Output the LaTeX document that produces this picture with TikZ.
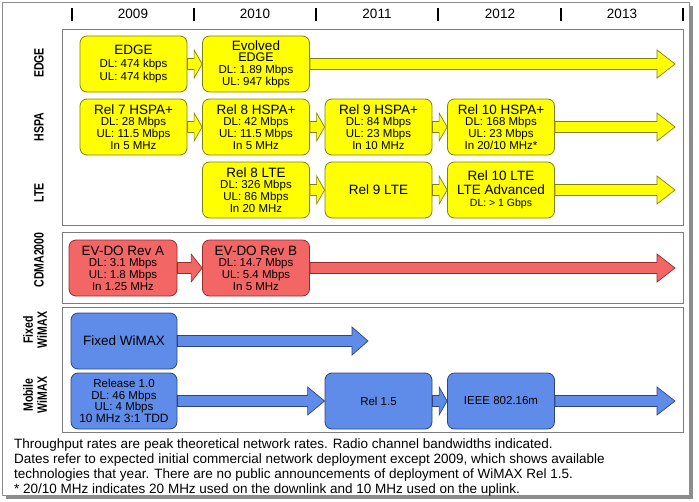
\documentclass[tikz,border=0pt]{standalone}
\usepackage{fontspec}
\setmainfont{Liberation Sans}
\usetikzlibrary{calc}

\definecolor{yelfill}{RGB}{255,255,0}
\definecolor{yeldraw}{RGB}{128,128,20}
\definecolor{redfill}{RGB}{242,102,102}
\definecolor{reddraw}{RGB}{150,45,45}
\definecolor{bluefill}{RGB}{95,140,232}
\definecolor{bluedraw}{RGB}{45,70,125}
\definecolor{panelgray}{RGB}{125,125,125}

\newcommand{\ttl}[1]{{\fontsize{13.5}{13.5}\selectfont #1}}
\newcommand{\rowtxt}[1]{\scalebox{0.78}[1]{#1}}
% horizontal block arrow: [style]{start}{tip}{head length}
\newcommand{\blockarrow}[4][]{%
  \path[#1] let \p1=(#2), \p2=(#3) in
    (\x1,\y1+5.5pt) -- (\x2-#4,\y1+5.5pt) -- (\x2-#4,\y1+14pt) -- (\x2,\y1)
    -- (\x2-#4,\y1-14pt) -- (\x2-#4,\y1-5.5pt) -- (\x1,\y1-5.5pt) -- cycle;}

\tikzset{
  techbox/.style={rectangle, rounded corners=7pt, minimum width=107pt,
    minimum height=56pt, inner sep=0pt, align=center, line width=0.8pt,
    font=\fontsize{11.5}{11.7}\selectfont},
  yelbox/.style={techbox, fill=yelfill, draw=yeldraw},
  redbox/.style={techbox, fill=redfill, draw=reddraw},
  bluebox/.style={techbox, fill=bluefill, draw=bluedraw},
  yelarrow/.style={fill=yelfill, draw=yeldraw, line width=0.7pt},
  redarrow/.style={fill=redfill, draw=reddraw, line width=0.7pt},
  bluearrow/.style={fill=bluefill, draw=bluedraw, line width=0.7pt},
  panel/.style={draw=panelgray, fill=white, line width=1pt},
  rowlabel/.style={rotate=90, align=center, inner sep=0pt,
    font=\fontsize{13.5}{14}\selectfont\bfseries},
  yearlabel/.style={font=\fontsize{13.5}{14}\selectfont},
  yeartick/.style={line width=2.5pt}
}

\begin{document}
\begin{tikzpicture}[x=1pt, y=-1pt]
    \useasboundingbox (0,0) rectangle (699,501);

    % frame with shadow
    \fill[black!45] (6,6) rectangle (693,499);
    \filldraw[fill=white, draw=black!45, line width=0.8pt] (2,2) rectangle (689,495);

    % years
    \foreach \xt in {72,194,316,438,561,683}
        \draw[yeartick] (\xt,8) -- (\xt,21);
    \foreach \yr/\xc in {2009/133,2010/255,2011/377,2012/500,2013/622}
        \node[yearlabel] (yr\yr) at (\xc,14) {\yr};

    % panels
    \draw[panel] (62,29) rectangle (683,225);
    \draw[panel] (62,232) rectangle (683,303);
    \draw[panel] (62,307) rectangle (683,432);

    % row labels
    \node[rowlabel] (ledge) at (39,63) {\rowtxt{EDGE}};
    \node[rowlabel] (lhspa) at (39,127) {\rowtxt{HSPA}};
    \node[rowlabel] (llte) at (39,193) {\rowtxt{LTE}};
    \node[rowlabel] (lcdma) at (39,260) {\rowtxt{CDMA2000}};
    \node[rowlabel] (lfixed) at (35,330) {\rowtxt{Fixed}\\\rowtxt{WiMAX}};
    \node[rowlabel] (lmobile) at (35,395) {\rowtxt{Mobile}\\\rowtxt{WiMAX}};

    % EDGE
    \node[yelbox] (edge1) at (133.5,64) {\ttl{EDGE}\\[1pt]DL: 474 kbps\\[1pt]UL: 474 kbps};
    \node[yelbox] (edge2) at (256,64) {\ttl{Evolved}\\{\fontsize{12.5}{12}\selectfont EDGE}\\DL: 1.89 Mbps\\UL: 947 kbps};
    \coordinate (edgeend) at (675,64);

    % HSPA
    \node[yelbox] (hspa1) at (133.5,127) {\ttl{Rel 7 HSPA+}\\DL: 28 Mbps\\UL: 11.5 Mbps\\In 5 MHz};
    \node[yelbox] (hspa2) at (256,127) {\ttl{Rel 8 HSPA+}\\DL: 42 Mbps\\UL: 11.5 Mbps\\In 5 MHz};
    \node[yelbox] (hspa3) at (378.5,127) {\ttl{Rel 9 HSPA+}\\DL: 84 Mbps\\UL: 23 Mbps\\In 10 MHz};
    \node[yelbox] (hspa4) at (501,127) {\ttl{Rel 10 HSPA+}\\DL: 168 Mbps\\UL: 23 Mbps\\In 20/10 MHz*};
    \coordinate (hspaend) at (675,127);

    % LTE
    \node[yelbox] (lte1) at (256,190) {\ttl{Rel 8 LTE}\\DL: 326 Mbps\\UL: 86 Mbps\\In 20 MHz};
    \node[yelbox] (lte2) at (378.5,190) {\ttl{Rel 9 LTE}};
    \node[yelbox] (lte3) at (501,190) {\ttl{Rel 10 LTE}\\[1.5pt]\ttl{LTE Advanced}\\[1pt]{\fontsize{10.5}{11}\selectfont DL: > 1 Gbps}};
    \coordinate (lteend) at (675,190);

    % CDMA2000
    \node[redbox, minimum width=108pt] (cdma1) at (123,268) {\ttl{EV-DO Rev A}\\DL: 3.1 Mbps\\UL: 1.8 Mbps\\In 1.25 MHz};
    \node[redbox] (cdma2) at (256,268) {\ttl{EV-DO Rev B}\\DL: 14.7 Mbps\\UL: 5.4 Mbps\\In 5 MHz};
    \coordinate (cdmaend) at (675,268);

    % WiMAX
    \node[bluebox, minimum width=106pt] (fix1) at (124,341) {\ttl{Fixed WiMAX}};
    \coordinate (fixend) at (368,341);
    \node[bluebox, minimum width=106pt] (mob1) at (124,401) {Release 1.0\\DL: 46 Mbps\\UL: 4 Mbps\\{\fontsize{12}{12}\selectfont 10 MHz 3:1 TDD}};
    \node[bluebox] (mob2) at (378.5,401) {Rel 1.5};
    \node[bluebox] (mob3) at (501,401) {IEEE 802.16m};
    \coordinate (mobend) at (675,401);

    % arrows
    \blockarrow[yelarrow]{edge1.east}{edge2.west}{8pt}
    \blockarrow[yelarrow]{edge2.east}{edgeend}{18pt}
    \blockarrow[yelarrow]{hspa1.east}{hspa2.west}{8pt}
    \blockarrow[yelarrow]{hspa2.east}{hspa3.west}{8pt}
    \blockarrow[yelarrow]{hspa3.east}{hspa4.west}{8pt}
    \blockarrow[yelarrow]{hspa4.east}{hspaend}{18pt}
    \blockarrow[yelarrow]{lte1.east}{lte2.west}{8pt}
    \blockarrow[yelarrow]{lte2.east}{lte3.west}{8pt}
    \blockarrow[yelarrow]{lte3.east}{lteend}{18pt}
    \blockarrow[redarrow]{cdma1.east}{cdma2.west}{11pt}
    \blockarrow[redarrow]{cdma2.east}{cdmaend}{18pt}
    \blockarrow[bluearrow]{fix1.east}{fixend}{16pt}
    \blockarrow[bluearrow]{mob1.east}{mob2.west}{17pt}
    \blockarrow[bluearrow]{mob2.east}{mob3.west}{8pt}
    \blockarrow[bluearrow]{mob3.east}{mobend}{18pt}

    % notes
    \node[anchor=north west, align=left, inner sep=0pt,
          font=\fontsize{13.5}{15}\selectfont] (notes) at (14,439)
        {Throughput rates are peak theoretical network rates. Radio channel bandwidths indicated.\\
         Dates refer to expected initial commercial network deployment except 2009, which shows available\\
         technologies that year. There are no public announcements of deployment of WiMAX Rel 1.5.\\
         * 20/10 MHz indicates 20 MHz used on the downlink and 10 MHz used on the uplink.};
\end{tikzpicture}
\end{document}
